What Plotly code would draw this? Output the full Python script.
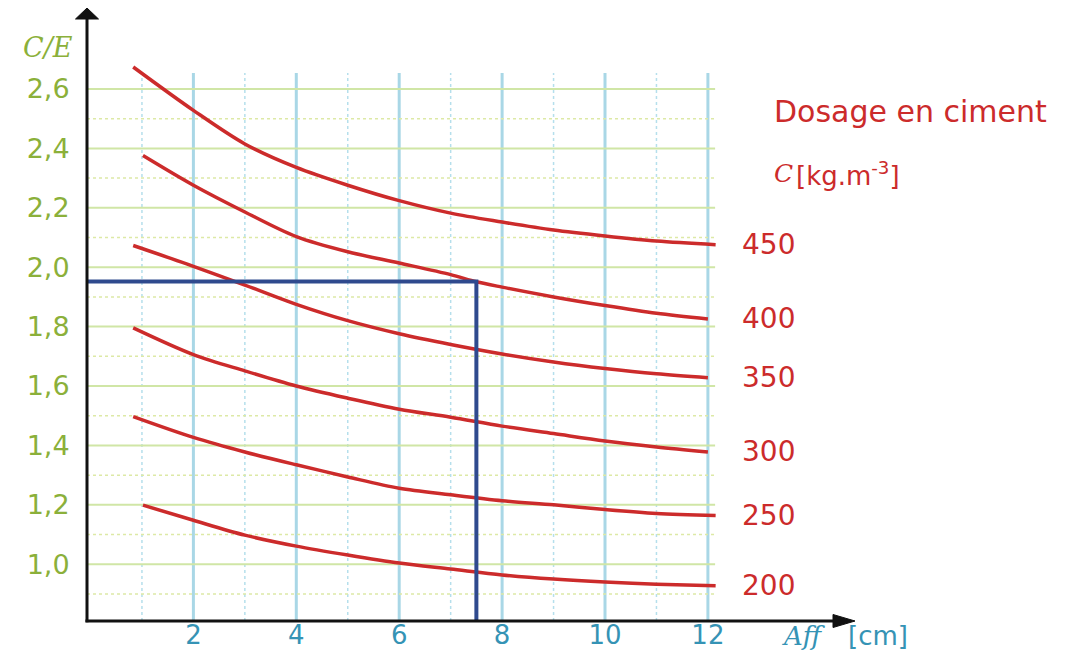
import plotly.graph_objects as go

# ---------------- data ----------------
dosages = ["450", "400", "350", "300", "250", "200"]

aff_450 = [0.83, 2, 3, 4, 5, 6, 7, 8, 9, 10, 11, 12.15]
ce_450 = [2.674, 2.528, 2.415, 2.336, 2.276, 2.224, 2.182, 2.152, 2.125, 2.105, 2.088, 2.076]

aff_400 = [1.02, 2, 3, 4, 5, 6, 7, 7.5, 8, 9, 10, 11, 12]
ce_400 = [2.376, 2.276, 2.186, 2.103, 2.052, 2.014, 1.975, 1.951, 1.933, 1.90, 1.871, 1.845, 1.826]

aff_350 = [0.83, 2, 3, 4, 5, 6, 7, 8, 9, 10, 11, 12]
ce_350 = [2.073, 2.003, 1.94, 1.875, 1.82, 1.776, 1.74, 1.708, 1.681, 1.659, 1.641, 1.628]

aff_300 = [0.83, 2, 3, 4, 5, 6, 7, 8, 9, 10, 11, 12]
ce_300 = [1.796, 1.706, 1.651, 1.60, 1.559, 1.522, 1.495, 1.465, 1.44, 1.415, 1.395, 1.378]

aff_250 = [0.83, 2, 3, 4, 5, 6, 7, 8, 9, 10, 11, 12.15]
ce_250 = [1.497, 1.427, 1.378, 1.335, 1.294, 1.256, 1.234, 1.214, 1.20, 1.184, 1.171, 1.164]

aff_200 = [1.02, 2, 3, 4, 5, 6, 7, 8, 9, 10, 11, 12.15]
ce_200 = [1.199, 1.148, 1.098, 1.061, 1.031, 1.004, 0.984, 0.964, 0.95, 0.94, 0.933, 0.928]

series_x = [aff_450, aff_400, aff_350, aff_300, aff_250, aff_200]
series_y = [ce_450, ce_400, ce_350, ce_300, ce_250, ce_200]

# reading example (blue construction lines): Aff = 7.5 cm -> C/E = 1.95
read_aff_value = 7.5
read_ce_value = 1.952

x_ticks = [2, 4, 6, 8, 10, 12]
x_ticktext = ["2", "4", "6", "8", "10", "12"]
y_ticks = [1.0, 1.2, 1.4, 1.6, 1.8, 2.0, 2.2, 2.4, 2.6]
y_ticktext = ["1,0", "1,2", "1,4", "1,6", "1,8", "2,0", "2,2", "2,4", "2,6"]
x_minor = [1, 3, 5, 7, 9, 11]
y_minor = [0.9, 1.1, 1.3, 1.5, 1.7, 1.9, 2.1, 2.3, 2.5]

# ---------------- styles / geometry ----------------
RED = "#cc2b2b"
GREEN = "#8bb03a"
BLUE_TXT = "#3593b5"
NAVY = "#2f4a8e"
OFF = 8  # page body margin
W, H = 1086 - OFF, 654 - OFF
ML, MR, MT, MB = 87 - OFF, 226, 0, 33
PW, PH = W - ML - MR, H - MT - MB
X0, X1 = -0.068, 14.956
Y0, Y1 = 0.809, 2.8726
GRID_XMAX = 12.14
GRID_YMAX = 2.654


def pp(px, py):
    """page pixel -> paper coordinates"""
    return (px - OFF - ML) / PW, (H - MB - (py - OFF)) / PH


fig = go.Figure()

shapes = []
for xv in x_ticks:
    shapes.append(dict(type="line", xref="x", yref="y", x0=xv, x1=xv, y0=Y0, y1=GRID_YMAX,
                       line=dict(color="#a9d7e6", width=3), layer="below"))
for xv in x_minor:
    shapes.append(dict(type="line", xref="x", yref="y", x0=xv, x1=xv, y0=Y0, y1=GRID_YMAX,
                       line=dict(color="#b5dfec", width=1.5, dash="dot"), layer="below"))
for yv in y_ticks:
    shapes.append(dict(type="line", xref="x", yref="y", x0=X0, x1=GRID_XMAX, y0=yv, y1=yv,
                       line=dict(color="#d0e6a6", width=2), layer="below"))
for yv in y_minor:
    shapes.append(dict(type="line", xref="x", yref="y", x0=X0, x1=GRID_XMAX, y0=yv, y1=yv,
                       line=dict(color="#dde9a6", width=1.5, dash="dot"), layer="below"))

# axes with arrow heads (paper coordinates, not clipped)
ax_top = pp(87, 19)[1]
ax_right = pp(833, 0)[0]
shapes.append(dict(type="line", xref="paper", yref="paper", x0=0, x1=0, y0=-0.002, y1=ax_top,
                   line=dict(color="#111111", width=3)))
shapes.append(dict(type="line", xref="paper", yref="paper", x0=-0.002, x1=ax_right, y0=0, y1=0,
                   line=dict(color="#111111", width=3)))
tip_y = pp(87, 8)[1]
hw = 11.5 / PW
shapes.append(dict(type="path", xref="paper", yref="paper",
                   path=f"M {-hw} {ax_top} L {hw} {ax_top} L 0 {tip_y} Z",
                   fillcolor="#111111", line=dict(color="#111111", width=1)))
tip_x = pp(855, 0)[0]
hh = 6.5 / PH
shapes.append(dict(type="path", xref="paper", yref="paper",
                   path=f"M {ax_right} {-hh} L {ax_right} {hh} L {tip_x} 0 Z",
                   fillcolor="#111111", line=dict(color="#111111", width=1)))

for xs, ys in zip(series_x, series_y):
    fig.add_trace(go.Scatter(x=xs, y=ys, mode="lines",
                             line=dict(color=RED, width=3.5, shape="spline", smoothing=0.9),
                             hoverinfo="skip", cliponaxis=False))

fig.add_trace(go.Scatter(x=[X0, read_aff_value, read_aff_value],
                         y=[read_ce_value, read_ce_value, Y0], mode="lines",
                         line=dict(color=NAVY, width=4), hoverinfo="skip"))

annotations = []
for name, xs, ys in zip(dosages, series_x, series_y):
    annotations.append(dict(x=12.62, y=ys[-1], xref="x", yref="y", text=name, showarrow=False,
                            xanchor="left", yanchor="middle",
                            font=dict(family="DejaVu Sans", size=28, color=RED)))


def add_text(px, py, text, family, size, color, xanchor="center"):
    x, y = pp(px, py)
    annotations.append(dict(x=x, y=y, xref="paper", yref="paper", text=text, showarrow=False,
                            xanchor=xanchor, yanchor="middle",
                            font=dict(family=family, size=size, color=color)))


add_text(48, 47, "<i>C/E</i>", "DejaVu Serif", 27, GREEN)
add_text(910, 111, "Dosage en ciment", "DejaVu Sans", 30, RED)
add_text(772, 174, "<i>C</i>", "DejaVu Serif", 25, RED, "left")
add_text(794, 174, "[kg.m<sup>-3</sup>]", "DejaVu Sans", 26, RED, "left")
add_text(780, 636, "<i>Aff</i>", "DejaVu Serif", 26, BLUE_TXT, "left")
add_text(846, 636, "[cm]", "DejaVu Sans", 26, BLUE_TXT, "left")

fig.update_layout(
    width=W, height=H,
    margin=dict(l=ML, r=MR, t=MT, b=MB, pad=0),
    paper_bgcolor="white", plot_bgcolor="white",
    showlegend=False,
    shapes=shapes,
    annotations=annotations,
    xaxis=dict(range=[X0, X1], tickvals=x_ticks, ticktext=x_ticktext, showgrid=False,
               zeroline=False, showline=False, ticks="", ticklabelstandoff=-4,
               automargin=False, fixedrange=True,
               tickfont=dict(family="DejaVu Sans", size=26, color=BLUE_TXT)),
    yaxis=dict(range=[Y0, Y1], tickvals=y_ticks, ticktext=y_ticktext, showgrid=False,
               zeroline=False, showline=False, ticks="outside", ticklen=11,
               tickcolor="rgba(0,0,0,0)", automargin=False, fixedrange=True,
               tickfont=dict(family="DejaVu Sans", size=27, color=GREEN)),
)

fig.write_html("out.html")
